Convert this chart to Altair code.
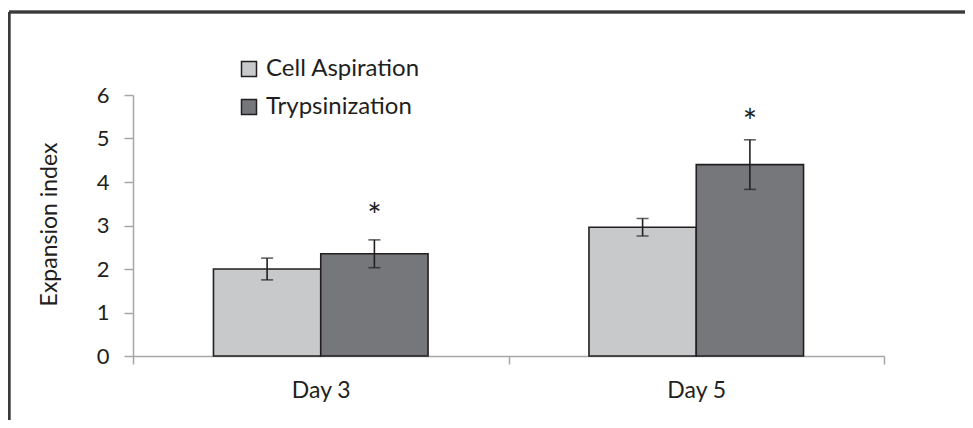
import altair as alt
import pandas as pd

days = ["Day 3", "Day 3", "Day 5", "Day 5"]
methods = ["Cell Aspiration", "Trypsinization", "Cell Aspiration", "Trypsinization"]
means = [2.0, 2.35, 2.96, 4.40]
errs = [0.25, 0.32, 0.20, 0.57]
star_days = ["Day 5", "Day 3"]
star_methods = ["Trypsinization", "Trypsinization"]
star_vals = [5.52, 3.35]

df = pd.DataFrame({"day": days, "method": methods, "mean": means, "err": errs})
df["lo"] = df["mean"] - df["err"]
df["hi"] = df["mean"] + df["err"]
stars = pd.DataFrame({"day": star_days, "method": star_methods, "v": star_vals, "s": ["*", "*"]})

FONT = "Lato"
TXT = "#231f20"
method_order = ["Cell Aspiration", "Trypsinization"]
x_enc = alt.X("day:N", title=None, scale=alt.Scale(paddingInner=0, paddingOuter=0),
              axis=alt.Axis(labelAngle=0, labelFontSize=23, labelFont=FONT, labelColor=TXT,
                            labelPadding=15, tickBand="extent", tickSize=8, tickColor="#a6a6a6",
                            domainColor="#a6a6a6", domainWidth=1.5, tickWidth=1.5, grid=False))
xo = alt.XOffset("method:N", sort=method_order, scale=alt.Scale(paddingOuter=0.75, paddingInner=0))

bars = alt.Chart(df).mark_bar(stroke=TXT, strokeWidth=1.6).encode(
    x=x_enc,
    xOffset=xo,
    y=alt.Y("mean:Q", title="Expansion index", scale=alt.Scale(domain=[0, 6], nice=False),
            axis=alt.Axis(values=[0, 1, 2, 3, 4, 5, 6], grid=False, labelFontSize=22, labelFont=FONT,
                          labelColor=TXT, tickSize=9, tickColor="#a6a6a6", tickWidth=1.5,
                          domainColor="#a6a6a6", domainWidth=1.5, labelPadding=15,
                          titleFont=FONT, titleFontSize=23, titleFontWeight="normal",
                          titleColor=TXT, titleX=-84, titleY=129, titleAngle=-90,
                          titleAlign="center", titleBaseline="middle")),
    color=alt.Color("method:N", sort=method_order,
                    scale=alt.Scale(domain=method_order, range=["#c8c9cb", "#76777b"]),
                    legend=alt.Legend(title=None, orient="none", legendX=104, legendY=-38,
                                      symbolType="square", symbolSize=225, symbolStrokeColor=TXT,
                                      symbolStrokeWidth=1.5, symbolOpacity=1, labelFont=FONT,
                                      labelFontSize=24, labelColor=TXT, rowPadding=14,
                                      labelOffset=5)),
)

rules = alt.Chart(df).mark_rule(color=TXT, strokeWidth=1.6).encode(
    x=alt.X("day:N"), xOffset=xo, y="lo:Q", y2="hi:Q")
caps_hi = alt.Chart(df).mark_tick(color=TXT, size=12, thickness=1.6, orient="horizontal").encode(
    x=alt.X("day:N"), xOffset=xo, y="hi:Q")
caps_lo = alt.Chart(df).mark_tick(color=TXT, size=12, thickness=1.6, orient="horizontal").encode(
    x=alt.X("day:N"), xOffset=xo, y="lo:Q")
star = alt.Chart(stars).mark_text(font=FONT, fontSize=34, color=TXT, baseline="middle", dy=8).encode(
    x=alt.X("day:N"), xOffset=xo, y="v:Q", text="s:N")

frame_v = alt.Chart(df).mark_rule(color="#3a3a3a", strokeWidth=2.5, clip=False).encode(
    x=alt.value(-124), y=alt.value(-83), y2=alt.value(400))
frame_h = alt.Chart(df).mark_rule(color="#3a3a3a", strokeWidth=2.5, clip=False).encode(
    x=alt.value(-124), x2=alt.value(900), y=alt.value(-83))

chart = alt.layer(bars, rules, caps_hi, caps_lo, star, frame_v, frame_h).properties(
    width=751, height=261,
    background="white",
    autosize=alt.AutoSizeParams(type="none"),
    padding={"left": 125, "top": 87, "right": 81, "bottom": 64},
).configure_view(stroke="#ffffff", strokeWidth=1, fill="#ffffff")

chart.save("out.html", embed_options={"renderer": "svg", "actions": False})
